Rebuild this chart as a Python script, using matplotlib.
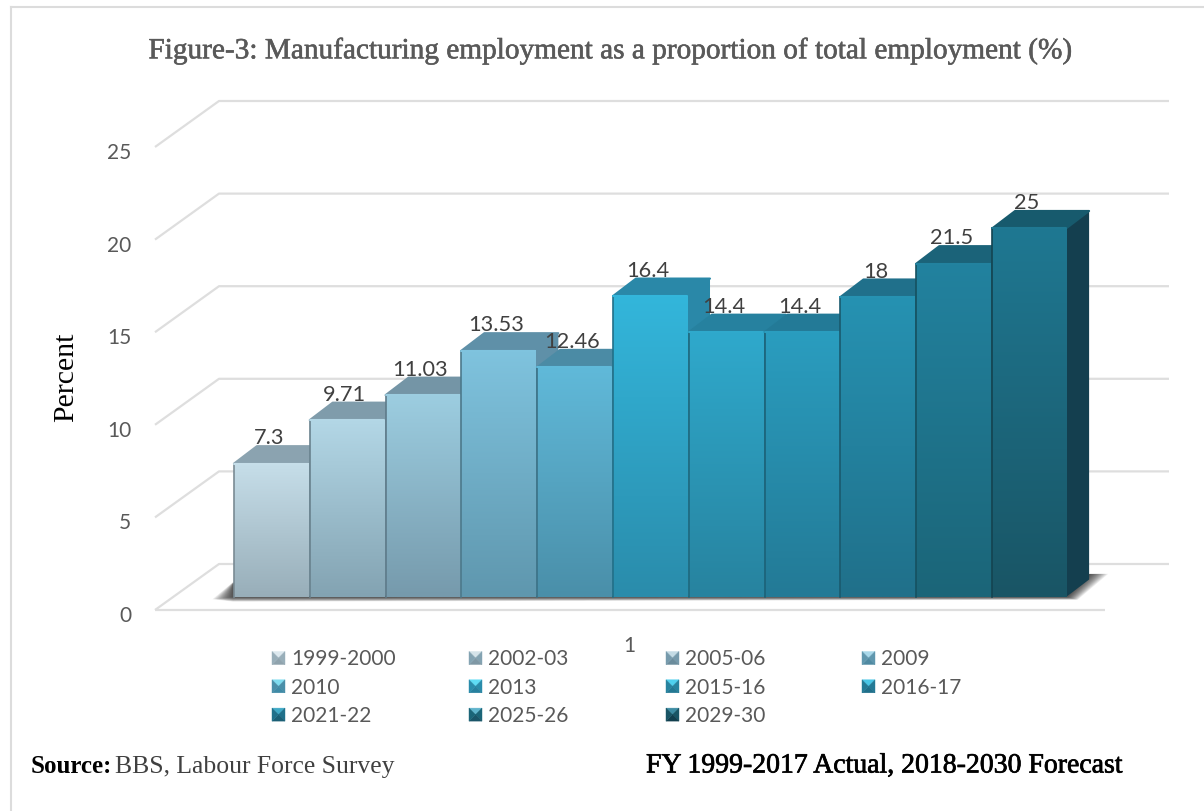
import matplotlib
matplotlib.use('Agg')
import matplotlib.pyplot as plt
import matplotlib.patheffects as pe
from matplotlib.colors import LinearSegmentedColormap, to_rgb
from matplotlib.patches import Polygon
from matplotlib.transforms import ScaledTranslation
import numpy as np

# data
# the drawn heights do not agree with the printed labels in the original
bar_heights = [7.2, 9.55, 10.9, 13.3, 12.4, 16.25, 14.3, 14.3, 16.2, 18.0, 19.9]
bar_labels = ['7.3', '9.71', '11.03', '13.53', '12.46', '16.4', '14.4', '14.4', '18', '21.5', '25']
y_ticks = [0, 5, 10, 15, 20, 25]
legend_names = ['1999-2000', '2002-03', '2005-06', '2009', '2010', '2013', '2015-16',
                '2016-17', '2021-22', '2025-26', '2029-30']

# top and bottom colour of each front face
front_top = ['#c6dee9', '#b3d7e6', '#9ccde0', '#7fc3de', '#60b9d9', '#33b6db',
             '#2fa9cc', '#2a9dbf', '#2692b2', '#22829f', '#1f7892']
front_bot = ['#98aeb9', '#83a3b2', '#769aac', '#5f97ae', '#4a8fa9', '#2a8cab',
             '#27839f', '#237a96', '#20708a', '#1b6578', '#195565']
top_face = ['#8ba3b0', '#7f9cab', '#7495a6', '#5f90a8', '#4b8ba5', '#2a88a8',
            '#26819f', '#237a97', '#20708b', '#1b6379', '#175a6d']

W, H = 1204, 812
BAR_L, BAR_W, BASE, UNIT = 233.0, 75.82, 598.0, 18.52
DEPTH_X, DEPTH_Y = 23 / BAR_W, 17.5 / UNIT
AX_L, AX_R, AX_T, AX_B = 155, 1169, 101, 611

GREY = '#595959'
SERIF = 'Liberation Serif'
plt.rcParams['font.family'] = ['Lato', 'DejaVu Sans']


def darker(colour, f):
    return tuple(c * f for c in to_rgb(colour))


fig = plt.figure(figsize=(W / 100, H / 100), dpi=100)
ax = fig.add_axes([AX_L / W, 1 - AX_B / H, (AX_R - AX_L) / W, (AX_B - AX_T) / H])
ax.set_xlim((AX_L - BAR_L) / BAR_W - 0.5, (AX_R - BAR_L) / BAR_W - 0.5)
ax.set_ylim((BASE - AX_B) / UNIT, (BASE - AX_T) / UNIT)
ax.set_autoscale_on(False)
for s in ax.spines.values():
    s.set_visible(False)
ax.set_xticks([])

floor_y = (BASE - AX_B) / UNIT
wall_y = (BASE - 565) / UNIT
front_x = ax.get_xlim()[0]
back_x = (219 - BAR_L) / BAR_W - 0.5
end_x = ax.get_xlim()[1]
floor_end = (1105 - BAR_L) / BAR_W - 0.5

# tick labels sit at the front edge of the floor, a little lower than the line
ax.set_yticks([v + floor_y for v in y_ticks], [str(v) for v in y_ticks])
ax.tick_params(axis='y', length=0, pad=17, labelsize=15, labelcolor=GREY)
shift = ScaledTranslation(0, -3 / 100, fig.dpi_scale_trans)
for lab in ax.get_yticklabels():
    lab.set_transform(lab.get_transform() + shift)

# walls and gridlines
line_kw = dict(color='#dedede', lw=1.6, zorder=1, clip_on=False, solid_capstyle='butt')
for v in y_ticks:
    ax.plot([front_x, back_x, end_x], [v + floor_y, v + wall_y, v + wall_y], **line_kw)
ax.plot([front_x, floor_end], [floor_y, floor_y], **line_kw)

# soft shadow under the bars
n_shadow = 14
for k in range(n_shadow):
    f = 1 - k / n_shadow
    xs = [-0.5 - 0.27 * f, -0.5, 10.5 + DEPTH_X + 0.24 * f, 10.5 + 0.14 * f, -0.5]
    ys = [-0.12 * f, 0.7 + 0.1 * f, 1.25, -0.15 * f, -0.25 * f]
    ax.add_patch(Polygon(list(zip(xs, ys)), closed=True, fc='black', ec='none',
                         alpha=0.07, zorder=2))

# bars, left to right so each one covers the hidden part of the last
for i, h in enumerate(bar_heights):
    x0, x1 = i - 0.5 + 0.012, i + 0.5 - 0.012
    z = 3 + i * 0.1
    ax.add_patch(Polygon([(x1, 0), (x1 + DEPTH_X, DEPTH_Y), (x1 + DEPTH_X, h + DEPTH_Y), (x1, h)],
                         closed=True, fc='#143f4f' if i == 10 else top_face[i],
                         ec='none', zorder=z))
    ax.add_patch(Polygon([(x0, h), (x0 + DEPTH_X, h + DEPTH_Y), (x1 + DEPTH_X, h + DEPTH_Y), (x1, h)],
                         closed=True, fc=top_face[i], ec=top_face[i], lw=1.5,
                         joinstyle='round', zorder=z + 0.01))
    cmap = LinearSegmentedColormap.from_list('f', [front_top[i], front_bot[i]])
    ax.imshow(np.linspace(0, 1, 128)[:, None], cmap=cmap, aspect='auto', origin='upper',
              extent=(x0, x1, 0, h), zorder=z + 0.02, interpolation='bilinear')
    ax.plot([x0, x0], [0, h], color=darker(front_bot[i], 0.8), lw=1.2, zorder=z + 0.03)
    ax.plot([x0, x1], [h, h], color=front_top[i], lw=1.5, zorder=z + 0.03, solid_capstyle='round')
    ax.annotate(bar_labels[i], (i, h), xytext=(-1.5, 19), textcoords='offset points', ha='center',
                va='center', fontsize=15.7, color='#404040', zorder=10)

# legend is laid out by hand: four equal columns that a normal legend can't give
swatch_top = ['#dce8ee', '#d5e4ea', '#c4dbe5', '#a8d8ea', '#7fdcef', '#5fdcf5',
              '#4fd0ee', '#49c6e6', '#3fa9c6', '#5fb4cc', '#3d8ca3']
swatch_bot = ['#8fa3ad', '#7f98a5', '#6b8c9c', '#4f8aa2', '#3f8aa6', '#27809e',
              '#237893', '#1f6f8a', '#1b5f75', '#1a5568', '#123f4e']
for i, name in enumerate(legend_names):
    col, row = i % 4, i // 4
    sx = 272 + col * 197 if col < 3 else 862
    sy = 652.5 + row * 28.3
    fig.text((sx + 19) / W, 1 - (sy + 7) / H, name, fontsize=15, color=GREY, va='center')
    s = 13
    c = (sx + s / 2, sy + s / 2)
    corners = [(sx, sy), (sx + s, sy), (sx + s, sy + s), (sx, sy + s)]
    mid = front_bot[i]
    for k, colr in enumerate([swatch_top[i], mid, swatch_bot[i], mid]):
        tri = [corners[k], corners[(k + 1) % 4], c]
        tri = [(p[0] / W, 1 - p[1] / H) for p in tri]
        fig.add_artist(Polygon(tri, closed=True, fc=colr, ec=colr, lw=0.3, transform=fig.transFigure))

fig.text(629 / W, 1 - 646 / H, '1', fontsize=15, color=GREY, ha='center', va='center')

# texts around the chart
title = fig.text(610 / W, 1 - 52 / H, 'Figure-3: Manufacturing employment as a proportion of total employment (%)',
                 family=SERIF, fontsize=21.1, color=GREY, ha='center', va='center')
title.set_path_effects([pe.withStroke(linewidth=0.4, foreground=GREY)])
fig.text(66 / W, 1 - 377 / H, 'Percent', family=SERIF, fontsize=21.5, color='black', rotation=90,
         ha='center', va='center')
fig.text(31 / W, 1 - 767 / H, 'Source:', family=SERIF, fontsize=18, weight='bold', color='black', va='center')
fig.text(115 / W, 1 - 767 / H, 'BBS, Labour Force Survey', family=SERIF, fontsize=18.45, color='#404040', va='center')
fy = fig.text(646 / W, 1 - 767 / H, 'FY 1999-2017 Actual, 2018-2030 Forecast', family=SERIF, fontsize=20,
              color='black', va='center')
fy.set_path_effects([pe.withStroke(linewidth=0.5, foreground='black')])

# picture frame: left and top only, the right side runs off the page
for xs, ys in [([11, 11], [8, 812]), ([11, 1204], [8, 8])]:
    fig.add_artist(plt.Line2D([x / W for x in xs], [1 - y / H for y in ys], color='#dcdcdc', lw=1.5))

fig.savefig('out.png', dpi=100, facecolor='white')
